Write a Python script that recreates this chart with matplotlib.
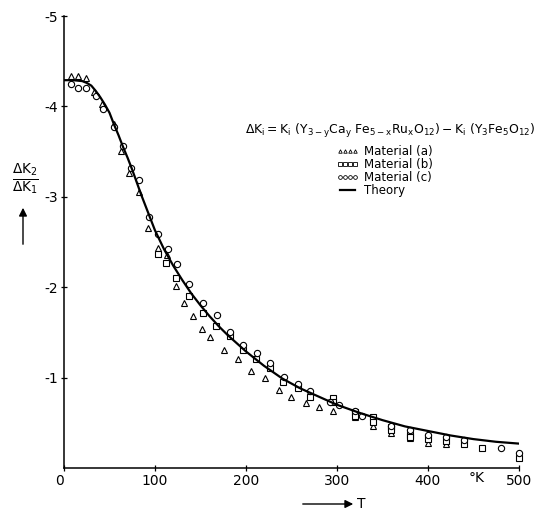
import matplotlib
matplotlib.use("Agg")
import matplotlib.pyplot as plt

plt.rcParams['font.family'] = ['DejaVu Sans']
plt.rcParams['mathtext.default'] = 'regular'
plt.rcParams['axes.unicode_minus'] = False

# theory curve (T in K, dK2/dK1)
theory_T = [0, 10, 20, 25, 30, 35, 40, 45, 50, 55, 60, 65, 70, 75, 80, 85, 90,
            100, 110, 120, 130, 140, 150, 160, 170, 180, 190, 200, 220, 240,
            260, 280, 300, 325, 350, 375, 400, 425, 450, 475, 500]
theory_v = [-4.29, -4.29, -4.28, -4.26, -4.23, -4.17, -4.10, -4.02, -3.93, -3.80,
            -3.68, -3.55, -3.43, -3.30, -3.16, -3.02, -2.89, -2.63, -2.42, -2.24,
            -2.08, -1.93, -1.80, -1.68, -1.57, -1.47, -1.38, -1.29, -1.13, -0.99,
            -0.88, -0.79, -0.70, -0.61, -0.53, -0.46, -0.41, -0.36, -0.32, -0.29,
            -0.27]

# Material (a) - triangles
mat_a_T = [8, 15, 24, 33, 42, 55, 63, 72, 82, 92, 103, 113, 123, 132, 142, 152,
           161, 176, 191, 206, 221, 236, 250, 266, 280, 296, 320, 340, 360, 380,
           400, 420]
mat_a_v = [-4.34, -4.34, -4.31, -4.16, -4.03, -3.80, -3.51, -3.26, -3.05, -2.65,
           -2.43, -2.36, -2.01, -1.83, -1.68, -1.54, -1.45, -1.30, -1.21, -1.07,
           -1.00, -0.86, -0.78, -0.72, -0.68, -0.63, -0.56, -0.46, -0.39, -0.33,
           -0.28, -0.26]

# Material (b) - squares
mat_b_T = [103, 112, 123, 138, 153, 167, 182, 197, 211, 227, 241, 257, 271, 296,
           296, 320, 320, 340, 340, 360, 360, 380, 380, 400, 420, 440, 460, 500]
mat_b_v = [-2.37, -2.27, -2.10, -1.90, -1.72, -1.57, -1.46, -1.30, -1.21, -1.11,
           -0.95, -0.88, -0.79, -0.77, -0.73, -0.62, -0.57, -0.56, -0.51, -0.45,
           -0.42, -0.37, -0.34, -0.32, -0.30, -0.27, -0.22, -0.11]

# Material (c) - circles
mat_c_T = [8, 15, 24, 35, 43, 55, 65, 74, 83, 94, 103, 114, 124, 137, 153, 168,
           182, 197, 212, 227, 242, 257, 271, 292, 302, 320, 328, 360, 380, 400,
           420, 440, 480, 500]
mat_c_v = [-4.25, -4.20, -4.20, -4.12, -3.97, -3.77, -3.56, -3.32, -3.19, -2.78,
           -2.59, -2.42, -2.26, -2.04, -1.83, -1.69, -1.50, -1.36, -1.27, -1.16,
           -1.01, -0.93, -0.85, -0.73, -0.70, -0.63, -0.57, -0.46, -0.42, -0.37,
           -0.34, -0.31, -0.22, -0.17]

x_ticks = [0, 100, 200, 300, 400, 500]
x_labels = ['0', '100', '200', '300', '400', '500']
y_ticks = [-1, -2, -3, -4, -5]
y_labels = ['-1', '-2', '-3', '-4', '-5']

W, H = 537, 512
fig = plt.figure(figsize=(W / 100, H / 100), dpi=100)
ax = fig.add_axes([64 / W, 1 - 468 / H, (518.7 - 64) / W, (468 - 16) / H])

mk = dict(linestyle='none', mfc='white', mec='black', mew=0.8, clip_on=False)
ax.plot(mat_a_T, mat_a_v, marker='^', ms=4.2, label='Material (a)', **mk)
ax.plot(mat_b_T, mat_b_v, marker='s', ms=3.8, label='Material (b)', **mk)
ax.plot(mat_c_T, mat_c_v, marker='o', ms=4.5, label='Material (c)', **mk)
ax.plot(theory_T, theory_v, color='black', lw=1.6, label='Theory')

ax.set_xlim(0, 500)
ax.set_ylim(0, -5)
for s in ['top', 'right']:
    ax.spines[s].set_visible(False)
for s in ['left', 'bottom']:
    ax.spines[s].set_linewidth(1.1)

ax.set_xticks(x_ticks)
ax.set_xticklabels(x_labels)
ax.set_yticks(y_ticks)
ax.set_yticklabels(y_labels)
ax.tick_params(direction='inout', length=5, width=0.9, labelsize=10, pad=2)
ax.get_xticklabels()[0].set_horizontalalignment('right')

leg = fig.legend(loc='upper left', bbox_to_anchor=(336 / W, 1 - 145 / H),
                 frameon=False, fontsize=8.5, numpoints=4, markerscale=0.6,
                 handlelength=1.9, handletextpad=0.5, labelspacing=0.0,
                 borderpad=0, borderaxespad=0)
for h in leg.legend_handles[:3]:
    h.set_markeredgewidth(0.6)

fig.text(245 / W, 1 - 131 / H,
         r'$\Delta K_i = K_i\ (Y_{3-y}Ca_y\ Fe_{5-x}Ru_xO_{12}) - K_i\ (Y_3Fe_5O_{12})$',
         fontsize=8.9, ha='left', va='center')

# y label with upward arrow
fig.text(25 / W, 1 - 179 / H, r'$\frac{\Delta K_2}{\Delta K_1}$', fontsize=14,
         ha='center', va='center')
ax.annotate('', xy=(23 / W, 1 - 205 / H), xytext=(23 / W, 1 - 247 / H),
            xycoords='figure fraction', textcoords='figure fraction',
            arrowprops=dict(arrowstyle='-|>', color='black', lw=1.0,
                            mutation_scale=12))

# x label with arrow
ax.annotate('', xy=(356 / W, 1 - 504 / H), xytext=(300 / W, 1 - 504 / H),
            xycoords='figure fraction', textcoords='figure fraction',
            arrowprops=dict(arrowstyle='-|>', color='black', lw=1.0,
                            mutation_scale=12))
fig.text(357 / W, 1 - 504 / H, 'T', fontsize=10, ha='left', va='center')
fig.text(477 / W, 1 - 478 / H, '°K', fontsize=10, ha='center', va='center')

fig.savefig('out.png', dpi=100)
